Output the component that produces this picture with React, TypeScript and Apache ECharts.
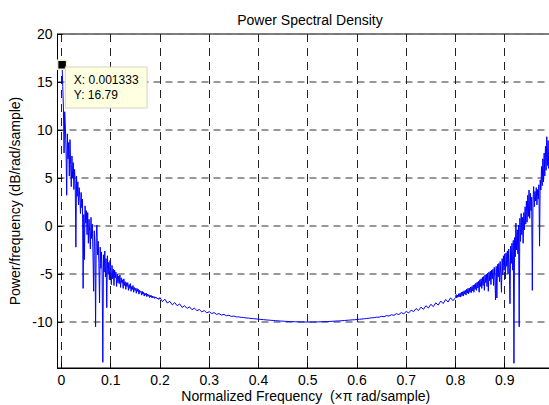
import React, { useEffect, useRef } from 'react';
import * as echarts from 'echarts';

// PSD values (dB/rad/sample), in three frequency bands.
// Low band: bins 1..150 of width 1/750 (0.001333 .. 0.2)
const psdLow = [
  16.79, 14.5, 12.3, 7.6, 11.9, 10.2, 8.0, 3.2, 9.6, 7.0,
  8.7, 5.2, 9.0, 6.4, 4.1, 7.3, 5.0, 6.6, 3.8, 5.9,
  4.4, -2.2, 5.2, 3.1, 4.6, 2.2, 4.0, 2.9, 1.3, 3.5,
  1.9, 2.8, -6.5, 1.2, -3.5, 2.1, 0.3, 1.6, -0.9, 1.4,
  -1.8, 0.7, -0.6, -2.4, 0.9, -1.3, 0.2, -2.8, -6.8, -0.5,
  -2.1, -10.5, -1.2, 0.1, -3.0, -1.6, -3.9, -8.0, -2.2, -4.4,
  -2.7, -5.1, -14.2, -3.0, -4.8, -2.6, -5.3, -3.4, -8.5, -3.1,
  -5.0, -3.8, -5.6, -3.6, -4.9, -6.1, -4.1, -5.5, -4.5, -6.2,
  -4.6, -5.4, -4.8, -6.3, -5.0, -5.9, -5.2, -6.0, -5.1, -6.4,
  -5.4, -5.9, -5.6, -6.5, -5.5, -6.2, -5.8, -6.6, -5.9, -6.3,
  -5.9, -6.7, -6.1, -6.5, -6.0, -6.8, -6.3, -6.6, -6.2, -6.9,
  -6.4, -6.7, -6.5, -7.0, -6.5, -6.8, -6.6, -7.1, -6.7, -6.9,
  -6.8, -7.2, -6.8, -7.1, -6.9, -7.3, -7.0, -7.2, -7.0, -7.35,
  -7.1, -7.3, -7.15, -7.45, -7.2, -7.4, -7.25, -7.5, -7.3, -7.45,
  -7.35, -7.55, -7.4, -7.5, -7.45, -7.6, -7.5, -7.65, -7.55, -7.6,
];
// Mid band: 0.2 .. 0.795, step 0.005
const psdMid = [
  -7.45, -7.88, -7.62, -8.02, -7.85, -8.21, -7.98, -8.3, -8.12, -8.48,
  -8.3, -8.58, -8.42, -8.72, -8.55, -8.82, -8.7, -8.95, -8.8, -9.04,
  -8.93, -9.12, -9.02, -9.21, -9.12, -9.28, -9.21, -9.35, -9.3, -9.42,
  -9.38, -9.47, -9.46, -9.52, -9.53, -9.58, -9.59, -9.63, -9.65, -9.68,
  -9.7, -9.73, -9.75, -9.78, -9.8, -9.82, -9.84, -9.86, -9.88, -9.9,
  -9.91, -9.93, -9.94, -9.95, -9.96, -9.97, -9.98, -9.99, -9.99, -10.0,
  -10.0, -10.0, -10.0, -10.0, -9.99, -9.98, -9.97, -9.96, -9.95, -9.94,
  -9.92, -9.91, -9.89, -9.88, -9.86, -9.84, -9.82, -9.8, -9.78, -9.76,
  -9.74, -9.71, -9.69, -9.66, -9.63, -9.6, -9.56, -9.55, -9.49, -9.5,
  -9.41, -9.45, -9.33, -9.38, -9.24, -9.31, -9.13, -9.22, -9.02, -9.14,
  -8.9, -9.06, -8.76, -8.92, -8.6, -8.8, -8.45, -8.68, -8.3, -8.54,
  -8.15, -8.4, -8.0, -8.24, -7.82, -8.08, -7.65, -7.92, -7.48, -7.78,
];
// High band: bins 600..750 of width 1/750 (0.8 .. 1.0)
const psdHigh = [
  -7.45, -7.15, -7.5, -7.2, -7.4, -7.05, -7.35, -7.0, -7.4, -6.9,
  -7.25, -6.85, -7.3, -6.75, -7.1, -6.7, -7.2, -6.6, -7.0, -6.5,
  -7.05, -6.45, -6.9, -6.35, -6.95, -6.3, -6.75, -6.15, -6.9, -6.1,
  -6.6, -5.95, -6.7, -5.85, -6.45, -5.75, -6.9, -5.6, -6.3, -5.5,
  -6.5, -5.35, -6.2, -5.25, -6.7, -5.1, -5.9, -5.0, -6.3, -4.9,
  -6.8, -4.8, -5.7, -4.7, -6.1, -4.6, -5.5, -4.5, -6.2, -4.3,
  -5.4, -7.7, -4.2, -7.5, -4.0, -5.3, -3.9, -5.8, -3.7, -5.0,
  -6.9, -3.4, -5.1, -3.1, -4.6, -2.9, -5.5, -2.8, -4.2, -2.6,
  -5.0, -2.4, -4.3, -8.1, -2.1, -3.9, -1.8, -4.6, -1.5, -14.3,
  -1.2, -3.2, 0.3, -2.5, -0.4, -2.9, 0.1, -10.5, 0.8, -1.6,
  1.3, -0.9, 0.9, -1.8, 1.4, -0.4, 2.0, 0.2, 2.6, 0.4,
  3.2, 1.0, 3.75, 0.8, 3.4, 1.6, 3.0, -6.7, 2.4, 4.1,
  2.0, 3.6, 2.6, 4.0, 2.2, 3.8, 2.8, 4.3, -2.1, 4.8,
  3.75, 6.2, 4.2, 7.0, 4.6, 7.6, 5.2, 8.3, 5.8, 9.3,
  6.3, 8.9, 6.0, 8.5, 6.8, 9.0, 7.2, 8.6, 7.0, 8.8,
  8.2,
];
const BIN = 1 / 750; // frequency resolution of the PSD (x pi rad/sample)
const LOW_FIRST_BIN = 1;
const HIGH_FIRST_BIN = 600;
const MID_START = 0.2;
const MID_STEP = 0.005;

const xTicks = [0, 0.1, 0.2, 0.3, 0.4, 0.5, 0.6, 0.7, 0.8, 0.9];
const yTicks = [-10, -5, 0, 5, 10, 15, 20];
const datatipX = 0.001333;
const datatipY = 16.79;

const FONT = "'Liberation Sans', Arial, Helvetica, sans-serif";

export default function App() {
  const ref = useRef<HTMLDivElement>(null);
  useEffect(() => {
    const chart = echarts.init(ref.current!, null, { renderer: 'svg' });
    const data: number[][] = [
      ...psdLow.map((v, i) => [(LOW_FIRST_BIN + i) * BIN, v]),
      ...psdMid.map((v, i) => [MID_START + i * MID_STEP, v]),
      ...psdHigh.map((v, i) => [(HIGH_FIRST_BIN + i) * BIN, v]),
    ];
    chart.setOption({
      animation: false,
      backgroundColor: '#ffffff',
      title: {
        text: 'Power Spectral Density',
        left: 305,
        top: 8,
        textAlign: 'center',
        textStyle: { fontSize: 14, fontWeight: 'normal', color: '#000', fontFamily: FONT },
      },
      grid: {
        left: 57.5,
        right: -5,
        top: 34,
        bottom: 37,
        show: true,
        borderColor: '#000',
        borderWidth: 1,
        backgroundColor: 'transparent',
        containLabel: false,
        outerBoundsMode: 'none',
      },
      xAxis: {
        type: 'value',
        min: -0.008,
        max: 1,
        name: 'Normalized Frequency  (\u00d7\u03c0 rad/sample)',
        nameLocation: 'middle',
        nameGap: 21,
        nameMoveOverlap: false,
        nameTextStyle: { fontSize: 14, lineHeight: 14, color: '#000', fontFamily: FONT },
        axisLine: { show: true, onZero: false, lineStyle: { color: '#000', width: 1 } },
        axisTick: { show: true, inside: true, length: 5, customValues: xTicks, lineStyle: { color: '#000' } },
        axisLabel: { customValues: xTicks, color: '#000', fontSize: 14, fontFamily: FONT, margin: 5, formatter: (v: number) => String(v) },
        splitLine: { show: true, lineStyle: { color: '#222', width: 1, type: [8, 6] } },
      },
      yAxis: {
        type: 'value',
        min: -14.79,
        max: 20,
        name: 'Power/frequency (dB/rad/sample)',
        nameLocation: 'middle',
        nameGap: 36,
        nameRotate: 90,
        nameMoveOverlap: false,
        nameTextStyle: { fontSize: 14, color: '#000', fontFamily: FONT },
        axisLine: { show: true, onZero: false, lineStyle: { color: '#000', width: 1 } },
        axisTick: { show: true, inside: true, length: 5, customValues: yTicks, lineStyle: { color: '#000' } },
        axisLabel: { customValues: yTicks, color: '#000', fontSize: 14, fontFamily: FONT, margin: 5, formatter: (v: number) => String(v) },
        splitLine: { show: true, lineStyle: { color: '#777', width: 1.5, type: [7, 5] } },
      },
      series: [
        {
          type: 'line',
          data,
          showSymbol: false,
          symbol: 'none',
          lineStyle: { color: '#0000ff', width: 1 },
          itemStyle: { color: '#0000ff' },
          z: 3,
          markPoint: {
            symbol: 'rect',
            symbolSize: 9,
            itemStyle: { color: '#000', borderColor: '#f3efc0', borderWidth: 1.5 },
            label: {
              show: true,
              position: [9, 8],
              formatter: `X: ${datatipX}\nY: ${datatipY}`,
              backgroundColor: '#ffffe1',
              borderColor: '#d4d4c4',
              borderWidth: 1,
              padding: [5, 8, 5, 8],
              color: '#000',
              fontSize: 12,
              lineHeight: 15,
              fontFamily: FONT,
              align: 'left',
              verticalAlign: 'top',
            },
            data: [{ coord: [datatipX, datatipY] }],
          },
        },
      ],
    });
    return () => chart.dispose();
  }, []);
  return (
    <div
      ref={ref}
      style={{ position: 'fixed', left: 0, top: 0, width: 549, height: 405, background: '#fff' }}
    />
  );
}
